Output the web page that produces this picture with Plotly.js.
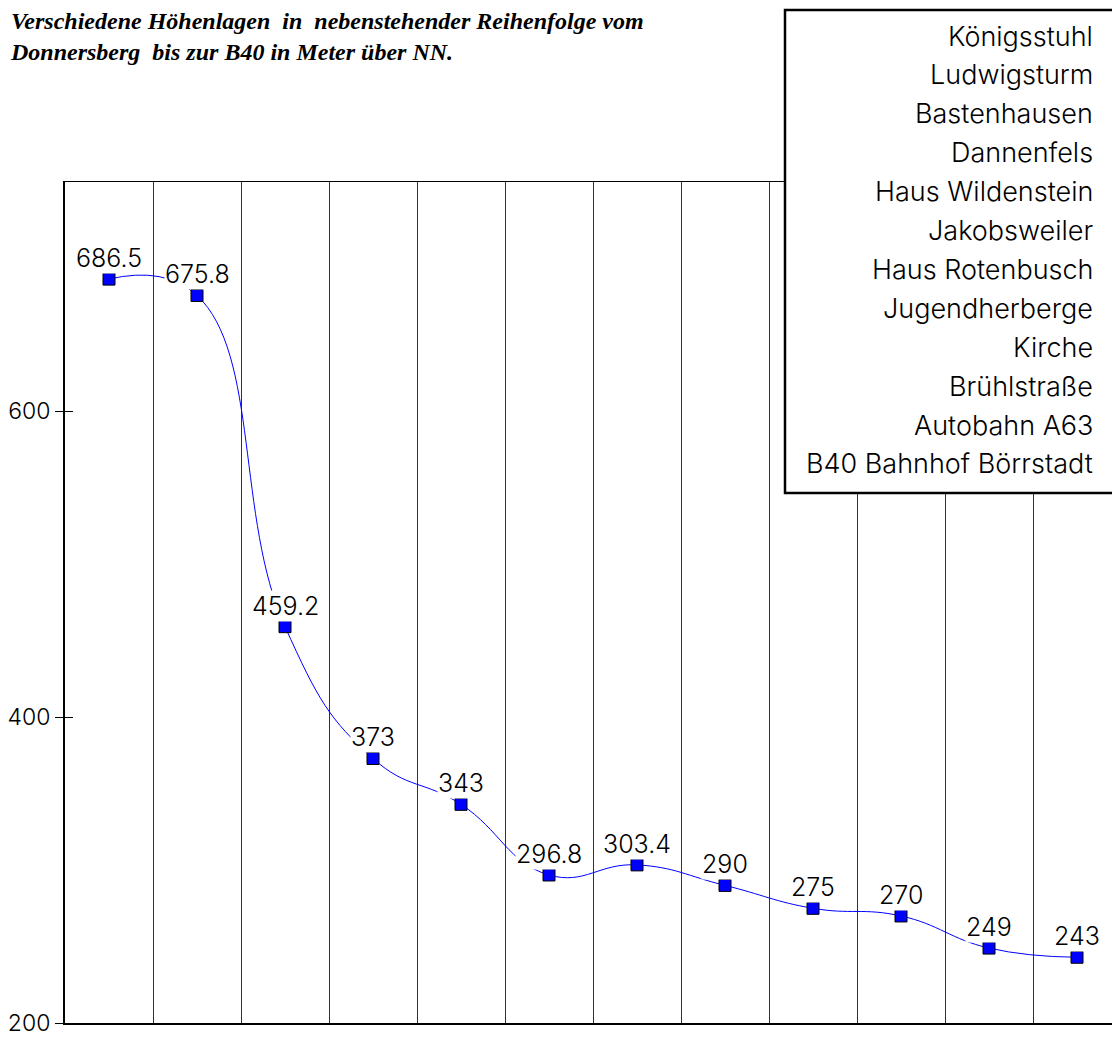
<!DOCTYPE html>
<html>
<head>
<meta charset="utf-8">
<script src="https://cdn.plot.ly/plotly-3.0.1.min.js"></script>
<style>html,body{margin:0;padding:0;background:#fff;}</style>
</head>
<body>
<div id="chart" style="width:1112px;height:1037px;"></div>
<script>
// Data
const stations = ["Königsstuhl","Ludwigsturm","Bastenhausen","Dannenfels","Haus Wildenstein","Jakobsweiler","Haus Rotenbusch","Jugendherberge","Kirche","Brühlstraße","Autobahn A63","B40 Bahnhof Börrstadt"];
const heights = [686.5, 675.8, 459.2, 373, 343, 296.8, 303.4, 290, 275, 270, 249, 243];
const heightLabels = ["686.5","675.8","459.2","373","343","296.8","303.4","290","275","270","249","243"];
const yTicks = [200, 400, 600];
const titleLines = ["Verschiedene Höhenlagen  in  nebenstehender Reihenfolge vom", "Donnersberg  bis zur B40 in Meter über NN."];

const W = 1112, H = 1037;
const mL = 65, mR = 0, mT = 182, mB = 14;
const plotW = W - mL - mR, plotH = H - mT - mB;
const colPx = 88;
const xs = heights.map((_, i) => i + 0.5);

const cad = 'Inter, "DejaVu Sans", sans-serif';
const cadWeight = 300;

const annotations = [];
// title
annotations.push({
  xref: 'paper', yref: 'paper', x: (8 - mL) / plotW, y: (H - mB - 6) / plotH,
  xanchor: 'left', yanchor: 'top', align: 'left', showarrow: false,
  text: titleLines.join('<br>'),
  font: {family: '"Liberation Serif", "Times New Roman", serif', size: 24, style: 'italic', weight: 'bold', color: '#000'}
});
// data labels
heights.forEach((v, i) => {
  annotations.push({
    x: xs[i], y: v, xref: 'x', yref: 'y',
    text: heightLabels[i], showarrow: false,
    xanchor: 'center', yanchor: 'bottom', yshift: 5,
    bgcolor: '#ffffff', borderpad: 0,
    font: {family: cad, size: 25, weight: cadWeight, color: '#000'}
  });
});
// station list in box
const boxRightPx = 1095, firstLinePx = 36, lineStep = 38.9;
stations.forEach((s, i) => {
  annotations.push({
    x: (boxRightPx - mL) / plotW, y: (H - mB - (firstLinePx + i * lineStep)) / plotH,
    xref: 'paper', yref: 'paper',
    text: s, showarrow: false, xanchor: 'right', yanchor: 'middle',
    font: {family: cad, size: 27, weight: cadWeight, color: '#000'}
  });
});

const trace = {
  x: xs, y: heights, type: 'scatter', mode: 'lines+markers',
  line: {color: '#0000ff', width: 1, shape: 'spline', smoothing: 1.3},
  marker: {symbol: 'square', size: 12, color: '#0000ff', line: {color: '#000', width: 1}},
  hoverinfo: 'none', showlegend: false
};

const layout = {
  width: W, height: H,
  margin: {l: mL, r: mR, t: mT, b: mB, pad: 0},
  paper_bgcolor: '#fff', plot_bgcolor: '#fff',
  xaxis: {
    range: [0, plotW / colPx], showgrid: true, gridcolor: '#333', gridwidth: 1,
    tick0: 0, dtick: 1, showticklabels: false, ticks: '', zeroline: false,
    showline: true, mirror: true, linecolor: '#000', linewidth: 1.5, fixedrange: true
  },
  yaxis: {
    range: [200, 750], tickvals: yTicks, ticktext: yTicks.map(String),
    ticks: 'outside', ticklen: 8, tickwidth: 1, tickcolor: '#000',
    showgrid: false, zeroline: false, showline: true, linecolor: '#000', linewidth: 2,
    tickfont: {family: cad, size: 23, weight: cadWeight, color: '#000'}, ticklabelstandoff: 0,
    ticklabeloverflow: 'allow', fixedrange: true
  },
  yaxis2: {
    overlaying: 'y', anchor: 'x', side: 'left', range: [200, 750], tickvals: yTicks,
    ticks: 'inside', ticklen: 8, tickwidth: 1, tickcolor: '#000',
    showticklabels: false, showgrid: false, zeroline: false, showline: false, fixedrange: true
  },
  shapes: [{
    type: 'rect', xref: 'paper', yref: 'paper', layer: 'above',
    x0: (785 - mL) / plotW, x1: 1.05,
    y0: (H - mB - 493) / plotH, y1: (H - mB - 10) / plotH,
    line: {color: '#000', width: 2.5}, fillcolor: '#fff'
  }],
  annotations: annotations
};

const trace2 = {x: [0.5], y: [200], yaxis: 'y2', mode: 'markers', marker: {opacity: 0}, hoverinfo: 'none', showlegend: false};

Plotly.newPlot('chart', [trace, trace2], layout, {staticPlot: true, displayModeBar: false});
</script>
</body>
</html>
